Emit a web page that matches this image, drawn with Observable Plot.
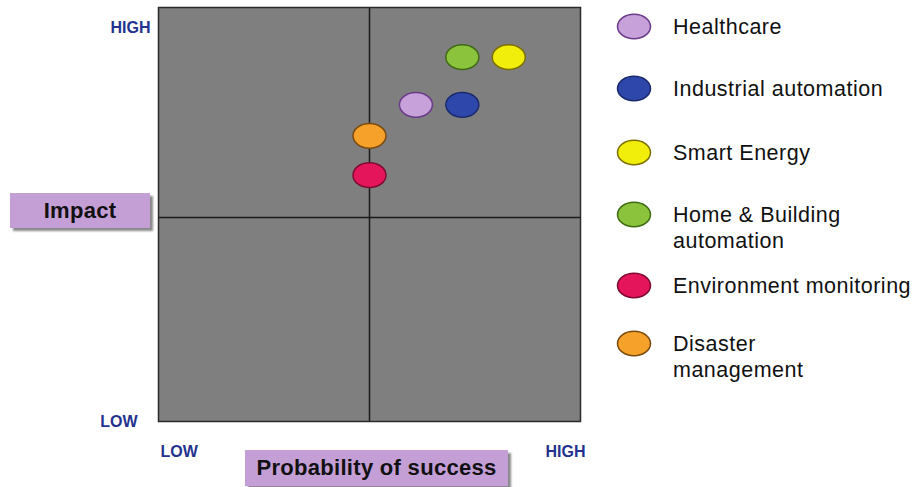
<!DOCTYPE html>
<html>
<head>
<meta charset="utf-8">
<script src="https://cdn.jsdelivr.net/npm/d3@7"></script>
<script src="https://cdn.jsdelivr.net/npm/@observablehq/plot@0.6"></script>
<style>
  body { margin: 0; background: #fff; font-family: "Liberation Sans", Arial, sans-serif; }
  #wrap { position: relative; width: 923px; height: 487px; overflow: hidden; }
  #wrap > svg { position: absolute; left: 0; top: 0; }
  .axbox { position: absolute; background: #c49fd6; color: #111; font-weight: bold; font-size: 22px;
           letter-spacing: 0.3px; box-shadow: 3px 3px 2px #8a8a8a; display: flex; align-items: center; justify-content: center; }
  .leg { position: absolute; left: 616px; display: flex; align-items: flex-start; }
  .leg svg { flex: none; }
  .leg span { margin-left: 21px; font-size: 21.5px; letter-spacing: 0.5px; line-height: 26px; color: #111; white-space: pre; }
</style>
</head>
<body>
<div id="wrap"></div>
<script>
// ---- data ----
const categories = ["Healthcare", "Industrial automation", "Smart Energy", "Home & Building automation", "Environment monitoring", "Disaster management"];
const legendLabels = ["Healthcare", "Industrial automation", "Smart Energy", "Home & Building\nautomation", "Environment monitoring", "Disaster\nmanagement"];
const probability = [6.1, 7.2, 8.3, 7.2, 5.0, 5.0];   // x: probability of success (0 = low, 10 = high)
const impact = [7.65, 7.65, 8.8, 8.8, 5.95, 6.9];     // y: impact (0 = low, 10 = high)
const fills = ["#c7a1da", "#2e47aa", "#f0ee0a", "#8bc43c", "#e5155c", "#f6a12a"];
const strokes = ["#6b3a8a", "#1b2a6e", "#7d7000", "#3f6a14", "#7e0a33", "#7a4a0e"];
const xTickLabels = ["LOW", "HIGH"];
const yTickLabels = ["LOW", "HIGH"];
const axisDomain = [0, 10];
const midX = 5;
const midY = 4.93;
const xTitle = "Probability of success";
const yTitle = "Impact";

const rows = categories.map((c, i) => ({name: c, x: probability[i], y: impact[i], fill: fills[i], stroke: strokes[i]}));

// ellipse symbol (wider than tall)
const ellipse = {
  draw(ctx, size) {
    const r = Math.sqrt(size / Math.PI);
    const rx = r, ry = r * 0.75, k = 0.5523;
    ctx.moveTo(rx, 0);
    ctx.bezierCurveTo(rx, ry * k, rx * k, ry, 0, ry);
    ctx.bezierCurveTo(-rx * k, ry, -rx, ry * k, -rx, 0);
    ctx.bezierCurveTo(-rx, -ry * k, -rx * k, -ry, 0, -ry);
    ctx.bezierCurveTo(rx * k, -ry, rx, -ry * k, rx, 0);
    ctx.closePath();
  }
};

const navy = "#24338f";
const tickFont = {fontSize: 16, fontWeight: "bold", fill: navy, letterSpacing: 1};

const chart = Plot.plot({
  width: 923,
  height: 487,
  marginLeft: 158,
  marginRight: 343,
  marginTop: 7,
  marginBottom: 66,
  style: {fontFamily: '"Liberation Sans", Arial, sans-serif', background: "transparent", overflow: "visible"},
  x: {domain: axisDomain, axis: null},
  y: {domain: axisDomain, axis: null},
  color: {type: "identity"},
  marks: [
    Plot.frame({fill: "#7f7f7f"}),
    Plot.ruleX([midX], {stroke: "#1a1a1a", strokeWidth: 1.5}),
    Plot.ruleY([midY], {stroke: "#1a1a1a", strokeWidth: 1.5}),
    Plot.dot(rows, {x: "x", y: "y", r: 16.5, symbol: ellipse, fill: "fill", stroke: "stroke", strokeWidth: 1.5}),
    Plot.frame({stroke: "#2b2b2b", strokeWidth: 1.5}),
    // y tick labels
    Plot.text([yTickLabels[1]], {x: axisDomain[0], y: axisDomain[1], text: d => d, textAnchor: "end", dx: -8, dy: 20, ...tickFont}),
    Plot.text([yTickLabels[0]], {x: axisDomain[0], y: axisDomain[0], text: d => d, textAnchor: "end", dx: -21, dy: 0, ...tickFont}),
    // x tick labels
    Plot.text([xTickLabels[0]], {x: axisDomain[0], y: axisDomain[0], text: d => d, textAnchor: "start", dx: 2, dy: 30, ...tickFont}),
    Plot.text([xTickLabels[1]], {x: axisDomain[1], y: axisDomain[0], text: d => d, textAnchor: "end", dx: 5, dy: 30, ...tickFont})
  ]
});

const wrap = document.getElementById("wrap");
wrap.appendChild(chart);

// axis title boxes
const yBox = document.createElement("div");
yBox.className = "axbox";
Object.assign(yBox.style, {left: "10px", top: "193px", width: "140px", height: "35px"});
yBox.textContent = yTitle;
wrap.appendChild(yBox);

const xBox = document.createElement("div");
xBox.className = "axbox";
Object.assign(xBox.style, {left: "245px", top: "450px", width: "263px", height: "36px"});
xBox.textContent = xTitle;
wrap.appendChild(xBox);

// legend
const legendTops = [26, 88, 152, 214, 285, 343];
legendLabels.forEach((lab, i) => {
  const item = document.createElement("div");
  item.className = "leg";
  item.style.top = (legendTops[i] - 13) + "px";
  item.innerHTML = `<svg width="36" height="27"><ellipse cx="18" cy="13.5" rx="16.5" ry="12.3" fill="${fills[i]}" stroke="${strokes[i]}" stroke-width="1.5"/></svg>`;
  const span = document.createElement("span");
  span.textContent = lab;
  span.style.marginTop = "1px";
  item.appendChild(span);
  wrap.appendChild(item);
});
</script>
</body>
</html>
